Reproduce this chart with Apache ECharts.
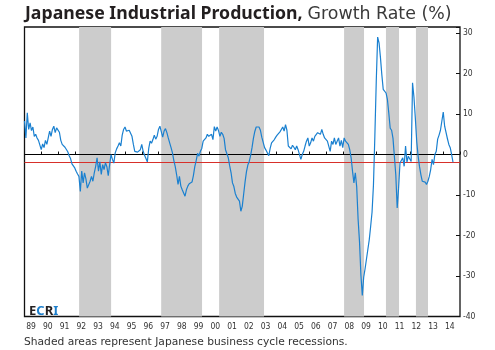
<!DOCTYPE html>
<html><head><meta charset="utf-8">
<script src="https://cdn.jsdelivr.net/npm/echarts@6/dist/echarts.min.js"></script>
<style>html,body{margin:0;padding:0;background:#fff}#c{width:495px;height:350px}</style>
</head><body><div id="c"></div>
<script>
// Monthly year-over-year growth (%), starting January 1989
const startYear = 1989;
const growth1989to1993 = [
  8.3, 4.1, 10.3, 6.2, 7.8, 5.9, 6.8, 4.5, 5.0, 4.1, 3.5, 3.3,
  1.2, 2.6, 1.7, 3.5, 2.5, 4.1, 5.8, 4.5, 6.2, 7.0, 5.4, 6.6,
  6.3, 5.5, 3.5, 2.5, 2.1, 1.8, 1.6, 0.7, -0.3, -1.0, -2.3, -2.0,
  -3.3, -4.1, -4.8, -5.4, -9.1, -4.1, -7.0, -4.5, -6.0, -8.3, -8.7, -6.6,
  -5.4, -6.6, -4.5, -2.9, -0.8, -4.1, -1.8, -4.9, -2.5, -3.7, -2.0, -3.0
];
const growth1994to1998 = [
  -5.2, -2.5, 0.0, -1.2, -2.1, 0.4, 1.4, 2.1, 2.9, 2.1, 4.8, 6.2,
  6.8, 5.8, 5.9, 6.0, 5.8, 4.5, 2.5, 0.8, 0.6, 0.6, 0.8, 1.2,
  2.5, 0.8, -0.2, -1.0, -1.8, 1.5, 3.3, 2.8, 3.7, 4.8, 3.8, 4.5,
  6.2, 7.0, 7.3, 4.3, 5.8, 6.4, 5.4, 4.1, 2.9, 1.7, 0.4, -1.5,
  -3.0, -5.0, -7.4, -5.4, -7.8, -8.7, -8.3, -10.3, -8.7, -7.8, -7.2, -6.8
];
const growth1999to2003 = [
  -6.8, -5.2, -3.0, -1.5, 0.3, -0.4, 0.8, 1.5, 3.3, 2.9, 4.1, 5.0,
  4.5, 4.3, 5.0, 3.7, 6.9, 5.8, 6.8, 5.9, 4.5, 5.5, 5.0, 4.0,
  1.2, 1.5, -0.8, -2.8, -4.5, -7.0, -7.9, -9.6, -10.5, -10.6, -11.5, -14.0,
  -12.8, -9.8, -6.8, -4.3, -2.6, -1.7, -0.2, 1.7, 4.0, 5.7, 6.8, 6.4,
  6.8, 6.0, 4.3, 3.0, 1.7, 1.1, 1.2, -0.3, 1.5, 2.9, 3.3, 3.7
];
const growth2004to2008 = [
  4.3, 4.8, 4.7, 5.6, 6.2, 6.8, 5.8, 7.4, 6.0, 2.1, 2.4, 1.4,
  2.3, 1.8, 1.2, 2.1, 1.2, 0.8, -1.2, 0.0, 0.8, 2.1, 3.3, 4.1,
  2.1, 2.9, 4.1, 3.3, 4.5, 4.3, 5.4, 5.8, 5.0, 6.2, 5.0, 4.1,
  4.5, 3.3, 3.7, 0.8, 3.3, 2.5, 4.1, 2.5, 3.3, 4.1, 2.1, 3.5,
  1.7, 4.1, 3.3, 2.9, 2.5, 1.2, -0.8, -4.1, -7.0, -4.5, -8.0, -16.0
];
const growth2009to2014 = [
  -21.5, -29.7, -34.8, -30.3, -28.2, -25.8, -23.4, -21.0, -17.7, -14.2, -7.5, 4.5,
  18.0, 29.0, 27.6, 24.0, 19.7, 16.1, 15.8, 15.2, 13.6, 10.2, 6.5, 6.0,
  4.0, 3.7, -5.0, -13.2, -8.3, -2.1, -1.9, -0.8, -2.9, 2.1, -1.9, -0.4,
  -0.6, -1.7, 17.7, 14.2, 9.0, 3.2, -0.4, -3.0, -5.0, -6.6, -6.4, -6.8,
  -7.4, -6.6, -5.4, -3.7, -1.2, -2.5, 0.0, 0.8, 3.8, 4.8, 6.0, 5.9,
  10.5, 7.0, 7.4, 3.9, 2.5, 1.7, 0.0, -1.9
];
// Japanese business cycle recessions (decimal years, read from the shading)
const recessions = [
  [1992.26, 1994.17], [1997.16, 1999.60], [2000.62, 2003.30],
  [2008.08, 2009.27], [2010.58, 2011.36], [2012.37, 2013.09]
];
const yearLabels = ['89','90','91','92','93','94','95','96','97','98','99','00','01',
  '02','03','04','05','06','07','08','09','10','11','12','13','14'];
const yTickValues = [30, 20, 10, 0, -10, -20, -30, -40];
const zeroLine = 0;
const thresholdLine = -2;

const values = [].concat(growth1989to1993, growth1994to1998, growth1999to2003, growth2004to2008, growth2009to2014);
const points = values.map((v, i) => [startYear + i / 12, v]);

const FONT = "'Noto Sans', 'Liberation Sans', sans-serif";
const WIDE = "'DejaVu Sans', 'Noto Sans', sans-serif";
const NARROW = "'Liberation Sans Narrow', 'DejaVu Sans Condensed', 'Noto Sans', sans-serif";
const chart = echarts.init(document.getElementById('c'), null, {renderer: 'canvas'});
chart.setOption({
  animation: false,
  title: [
    {
      text: '{b|Japanese Industrial Production,} {r|Growth Rate (%)}',
      left: 20, top: 0,
      textStyle: {
        rich: {
          b: {fontFamily: FONT, fontWeight: 'bold', fontSize: 17.7, color: '#231f20'},
          r: {fontFamily: WIDE, fontWeight: 'normal', fontSize: 17.4, color: '#3a3a3a'}
        }
      }
    },
    {
      text: 'Shaded areas represent Japanese business cycle recessions.',
      left: 19, top: 332,
      textStyle: {fontFamily: WIDE, fontWeight: 'normal', fontSize: 10.7, color: '#333'}
    },
    {
      text: '{d|E}{c|C}{d|R}{c|I}',
      left: 24, top: 300,
      textStyle: {
        rich: {
          d: {fontFamily: FONT, fontWeight: 'bold', fontSize: 13, color: '#231f20'},
          c: {fontFamily: FONT, fontWeight: 'bold', fontSize: 13, color: '#1d7fcc'}
        }
      }
    }
  ],
  grid: {left: 24.5, right: 35, top: 27, bottom: 33.5, show: true, borderColor: '#111', borderWidth: 1.3},
  xAxis: {
    type: 'value', min: 1989, max: 2015, interval: 1,
    axisLine: {show: false},
    axisTick: {show: true, inside: true, length: 3, lineStyle: {color: '#111', width: 1}},
    splitLine: {show: false},
    axisLabel: {
      margin: 6, fontFamily: NARROW,
      fontSize: 8.5, color: '#333', padding: [0, 0, 0, 13],
      formatter: v => { const k = Math.round(v) - startYear; return (Math.abs(v - Math.round(v)) < 1e-6 && k >= 0 && k < yearLabels.length) ? yearLabels[k] : ''; }
    }
  },
  yAxis: {
    type: 'value', position: 'right', min: -40, max: 31.5, interval: 10,
    axisLine: {show: false},
    axisTick: {show: true, inside: true, length: 4, lineStyle: {color: '#111', width: 1}},
    splitLine: {show: false},
    axisLabel: {
      margin: 3, fontFamily: NARROW,
      fontSize: 8.5, color: '#333',
      formatter: v => yTickValues.indexOf(v) >= 0 ? String(v) : ''
    }
  },
  series: [
    {
      type: 'line', data: [], silent: true, z: 1,
      markArea: {
        silent: true,
        itemStyle: {color: '#cccccc'},
        data: recessions.map(r => [{xAxis: r[0]}, {xAxis: r[1]}])
      }
    },
    {
      type: 'line', data: [], silent: true, z: 2,
      markLine: {
        silent: true, symbol: 'none', label: {show: false},
        data: [
          {yAxis: zeroLine, lineStyle: {color: '#000', width: 1.2, type: 'solid'}},
          {yAxis: thresholdLine, lineStyle: {color: '#d7302a', width: 1, type: 'solid'}}
        ]
      }
    },
    {
      type: 'line', data: points, showSymbol: false, z: 5,
      lineStyle: {color: '#1a80d0', width: 1.2},
      emphasis: {disabled: true}
    }
  ]
});
</script>
</body></html>
